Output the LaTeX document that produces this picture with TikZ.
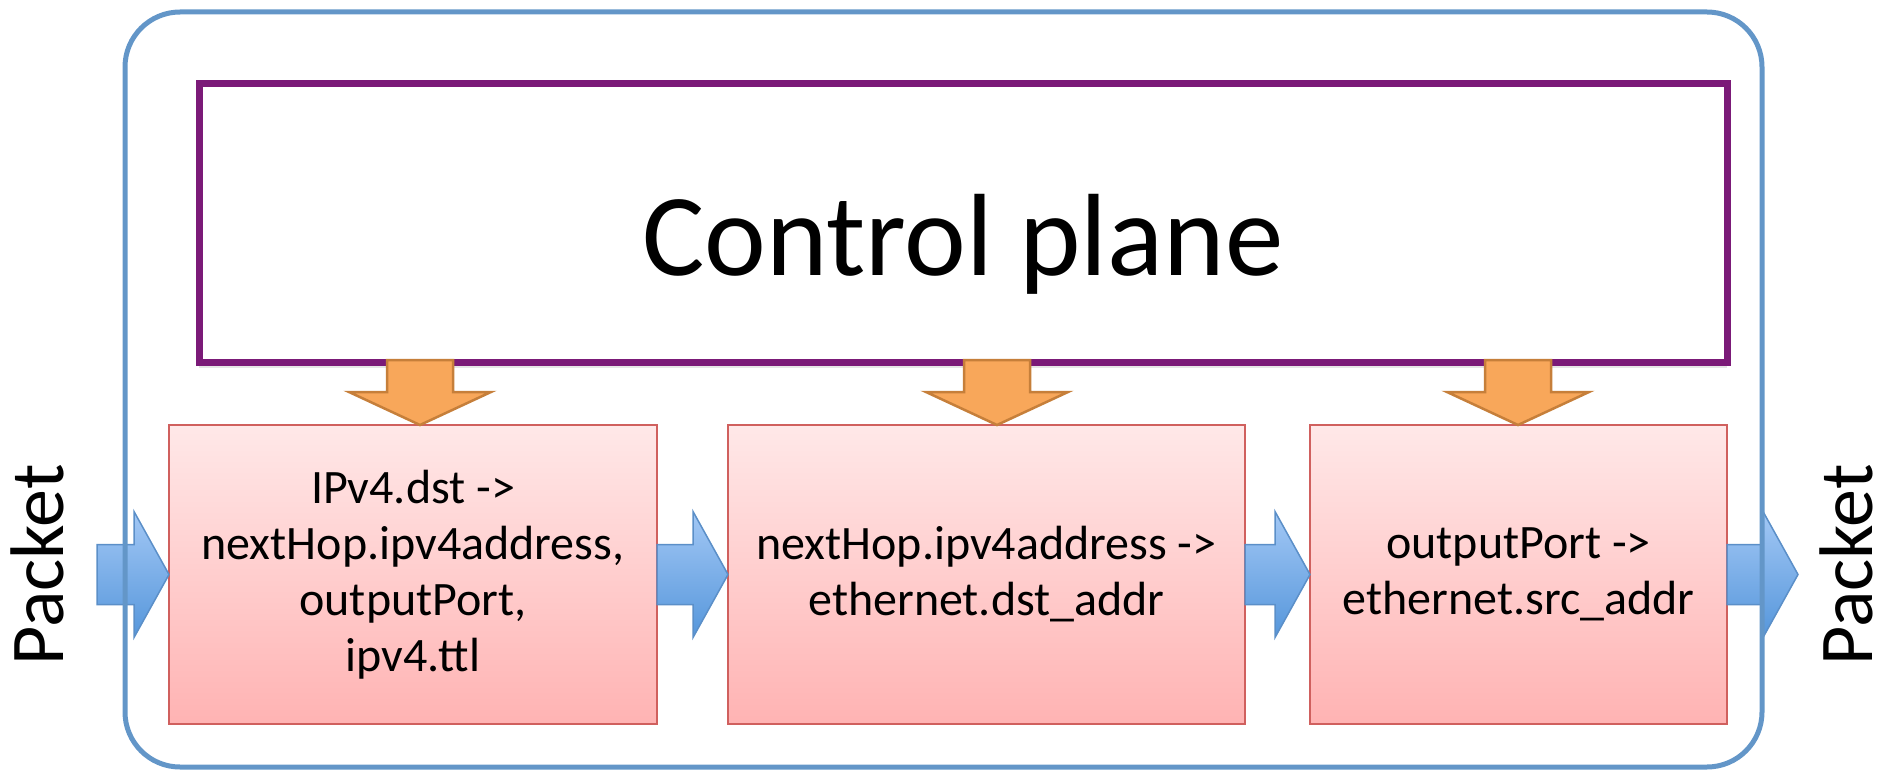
\documentclass[tikz,border=0pt]{standalone}
\usepackage{fontspec}
\setmainfont{Carlito}
\usetikzlibrary{positioning,calc,shadows}
\definecolor{frameblue}{HTML}{6396C8}
\definecolor{ctrlpurple}{HTML}{7B1A78}
\definecolor{tblline}{HTML}{D0605E}
\definecolor{tbltop}{HTML}{FFE8E8}
\definecolor{tblbot}{HTML}{FFB3B3}
\definecolor{pkttop}{HTML}{A3C8F5}
\definecolor{pktbot}{HTML}{5596DB}
\definecolor{pktline}{HTML}{5B8FC8}
\definecolor{cfgfill}{HTML}{F8A75A}
\definecolor{cfgline}{HTML}{C67F3A}

\begin{document}
\begin{tikzpicture}[x=1pt, y=-1pt,
frame/.style = {
    draw=frameblue, line width=5pt,
    rounded corners=55pt, inner sep=0pt, outer sep=0pt,
                },
ctrlbox/.style = {
    draw=ctrlpurple, line width=7pt, fill=white,
    minimum width=1528pt, minimum height=278pt,
    inner sep=0pt, outer sep=0pt,
    drop shadow={shadow xshift=0pt, shadow yshift=-6pt, opacity=0.2},
                },
tbl/.style = {
    draw=tblline, line width=1.5pt,
    top color=tbltop, bottom color=tblbot,
    minimum height=299pt, inner sep=0pt, outer sep=0pt,
    align=center, font=\fontsize{48}{56}\selectfont,
                },
pkt/.style = {
    rotate=90, anchor=base, inner sep=0pt,
    font=\fontsize{76}{90}\selectfont,
                },
% block arrow carrying the packet, tip on the target
pktarrow/.style = {
    draw=pktline, line width=1.5pt,
    top color=pkttop, bottom color=pktbot,
    to path={let \p1=(\tikztostart), \p2=(\tikztotarget) in
        (\x1,\y2+30pt) -- (\x2-35pt,\y2+30pt) -- (\x2-35pt,\y2+63pt)
        -- (\x2,\y2) -- (\x2-35pt,\y2-63pt) -- (\x2-35pt,\y2-30pt)
        -- (\x1,\y2-30pt) -- cycle},
                },
% block arrow from the control plane down to a table
cfgarrow/.style = {
    draw=cfgline, line width=2.5pt, fill=cfgfill,
    to path={let \p1=(\tikztostart), \p2=(\tikztotarget) in
        (\x2-33pt,\y1) -- (\x2+33pt,\y1) -- (\x2+33pt,\y2+33pt)
        -- (\x2+71pt,\y2+33pt) -- (\x2,\y2) -- (\x2-71pt,\y2+33pt)
        -- (\x2-33pt,\y2+33pt) -- cycle},
                },
                    ]
\useasboundingbox (0,0) rectangle (1890,770);

\node[ctrlbox] (ctrl) at (963,223) {};
\node[anchor=base, font=\fontsize{117}{140}\selectfont]
    (ctrltxt) at ($(ctrl.center)+(0,52)$) {Control plane};

\node[tbl, minimum width=488pt] (tbl1) at (413,574.5)
    {IPv4.dst ->\\ nextHop.ipv4address,\\ outputPort,\\ ipv4.ttl};
\node[tbl, minimum width=517pt, right=71pt of tbl1] (tbl2)
    {nextHop.ipv4address ->\\ ethernet.dst\_addr};
\node[tbl, minimum width=417pt, right=65pt of tbl2] (tbl3)
    {outputPort ->\\ ethernet.src\_addr};

\foreach \i/\x in {1/420, 2/997, 3/1518}
{
\coordinate (cfg\i) at (\x,360);
\coordinate (tip\i) at (cfg\i |- tbl\i.north);
\draw[cfgarrow] (cfg\i) to (tip\i);
}

\coordinate (pktin)  at (97,574.5);
\coordinate (pktout) at (1798,574.5);
\draw[pktarrow] (pktin)     to (tbl1.west);
\draw[pktarrow] (tbl1.east) to (tbl2.west);
\draw[pktarrow] (tbl2.east) to (tbl3.west);
\draw[pktarrow] (tbl3.east) to (pktout);

\node[pkt] (pktinlbl)  at (63,565)   {Packet};
\node[pkt] (pktoutlbl) at (1872,565) {Packet};

\node[frame, minimum width=1637pt, minimum height=755pt]
    (switch) at (943.5,389.5) {};
\end{tikzpicture}
\end{document}
